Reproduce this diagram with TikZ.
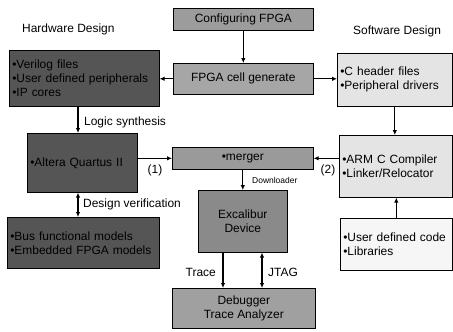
\documentclass[tikz,border=0pt]{standalone}
\usepackage{fontspec}
\setmainfont{Liberation Sans}
\usetikzlibrary{arrows.meta,calc}
\newcommand\fs{\fontsize{12}{14}\selectfont}
\newcommand\fsmall{\fontsize{8.5}{10}\selectfont}
\definecolor{cfgfill}{HTML}{9C9C9C}
\definecolor{fpgafill}{HTML}{A6A6A6}
\definecolor{darkfill}{HTML}{555555}
\definecolor{mergefill}{HTML}{9A9A9A}
\definecolor{excalfill}{HTML}{8A8A8A}
\definecolor{debugfill}{HTML}{A0A0A0}
\definecolor{lightfill}{HTML}{E4E4E4}
\definecolor{paler}{HTML}{F6F6F6}
\begin{document}
\begin{tikzpicture}[x=1bp,y=-1bp,
  box/.style={draw=black, line width=0.6bp, inner sep=0pt, font=\fs, anchor=north west},
  lbox/.style={box, align=left},
  arr/.style={line width=1.3bp, -{Latex[length=5bp,width=4.5bp]}},
  darr/.style={line width=1.3bp, {Latex[length=5bp,width=4.5bp]}-{Latex[length=5bp,width=4.5bp]}},
  lbl/.style={font=\fs, inner sep=0pt}]
\useasboundingbox (0,0) rectangle (453,331);
% titles
\node[lbl, anchor=west] (hwt) at (22,29) {Hardware Design};
\node[lbl, anchor=west] (swt) at (353,31) {Software Design};
% boxes
\node[box, fill=cfgfill, minimum width=140bp, minimum height=22bp] (cfg) at (173,8) {Configuring FPGA};
\node[box, fill=fpgafill, minimum width=140bp, minimum height=31bp] (fpga) at (173,63) {FPGA cell generate};
\node[lbox, fill=darkfill, minimum width=150bp, minimum height=56bp, text width=144bp] (verilog) at (9,50) {•Verilog files\\•User defined peripherals\\•IP cores};
\node[lbox, fill=darkfill, minimum width=110bp, minimum height=59bp, text width=104bp] (altera) at (27,133) {•Altera Quartus II};
\node[lbox, fill=darkfill, minimum width=152bp, minimum height=51bp, text width=146bp] (bus) at (7,217) {•Bus functional models\\•Embedded FPGA models};
\node[box, fill=mergefill, minimum width=141bp, minimum height=22bp] (merger) at (172,147) {•merger};
\node[box, fill=excalfill, minimum width=89bp, minimum height=62bp, align=center] (excal) at (198,190) {Excalibur\\Device};
\node[box, fill=debugfill, minimum width=143bp, minimum height=40bp, align=center] (debug) at (172,288) {Debugger\\Trace Analyzer};
\node[lbox, fill=lightfill, minimum width=115bp, minimum height=53bp, text width=109bp] (chead) at (337,53) {•C header files\\•Peripheral drivers};
\node[lbox, fill=lightfill, minimum width=113bp, minimum height=62bp, text width=107bp] (arm) at (339,135) {•ARM C Compiler\\•Linker/Relocator};
\node[lbox, fill=paler, minimum width=112bp, minimum height=52bp, text width=106bp] (user) at (340,218) {•User defined code\\•Libraries};
% helper coordinates
\coordinate (lx) at (78,0);
\coordinate (tx) at (223,0);
\coordinate (jx) at (262,0);
% connectors
\draw[arr] (cfg.south) -- (fpga.north);
\draw[arr] (fpga.west) -- (fpga.west -| verilog.east);
\draw[arr] (fpga.east) -- (fpga.east -| chead.west);
\draw[arr] (verilog.south -| lx) -- (altera.north -| lx);
\draw[darr] (altera.south -| lx) -- (bus.north -| lx);
\draw[arr] (altera.east |- merger.west) -- (merger.west);
\draw[arr] (arm.west |- merger.east) -- (merger.east);
\draw[arr] (chead.south) -- (chead.south |- arm.north);
\draw[arr] (user.north) -- (user.north |- arm.south);
\draw[arr] (merger.south) -- (merger.south |- excal.north);
\draw[arr] (excal.south -| tx) -- (debug.north -| tx);
\draw[darr] (excal.south -| jx) -- (debug.north -| jx);
% labels
\node[lbl, anchor=west] (lsyn) at (84,122) {Logic synthesis};
\node[lbl, anchor=west] (dver) at (83,204) {Design verification};
\node[lbl] (one) at (155,170) {(1)};
\node[lbl] (two) at (328,170) {(2)};
\node[lbl, anchor=west, font=\fsmall] (dl) at (252,180) {Downloader};
\node[lbl, anchor=east] (tr) at (216,272) {Trace};
\node[lbl, anchor=west] (jt) at (268,272) {JTAG};
\end{tikzpicture}
\end{document}
